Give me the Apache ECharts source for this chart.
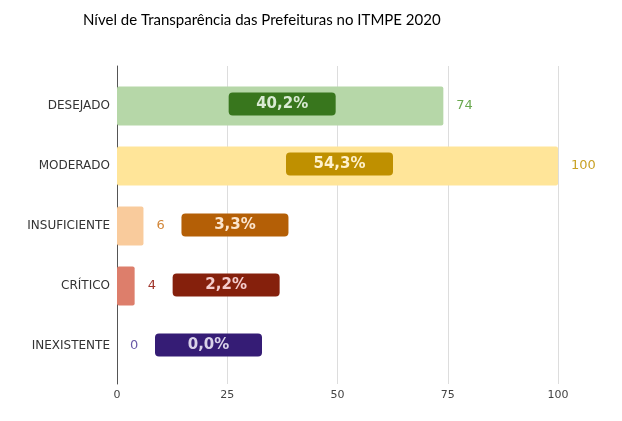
<!DOCTYPE html>
<html><head><meta charset="utf-8">
<script src="https://cdn.jsdelivr.net/npm/echarts@6/dist/echarts.min.js"></script>
<style>html,body{margin:0;padding:0;background:#fff}#c{width:622px;height:421px}</style>
</head><body><div id="c"></div>
<script>
const categories = ['DESEJADO', 'MODERADO', 'INSUFICIENTE', 'CRÍTICO', 'INEXISTENTE'];
const counts = [74, 100, 6, 4, 0];
const shares = [40.2, 54.3, 3.3, 2.2, 0.0];
const xTicks = [0, 25, 50, 75, 100];

const barColors = ['#b6d7a8', '#ffe599', '#f9cb9c', '#dd7e6b', '#b4a7d6'];
const valueColors = ['#6aa84f', '#c9a227', '#d2873a', '#a0342a', '#6a5aa8'];
const badgeColors = ['#38761d', '#bf9000', '#b45f06', '#85200c', '#351c75'];
const badgeText = ['#d9ead3', '#fff2cc', '#fce5cd', '#f4cccc', '#d9d2e9'];

const font = 'DejaVu Sans, Verdana, sans-serif';
const fmt = v => v.toFixed(1).replace('.', ',') + '%';

const chart = echarts.init(document.getElementById('c'), null, {renderer: 'canvas'});
chart.setOption({
  animation: false,
  title: {
    text: 'Nível de Transparência das Prefeituras no ITMPE 2020',
    left: 78, top: 8,
    textStyle: {fontFamily: 'Lato, sans-serif', fontWeight: 'normal', fontSize: 15, color: '#000'}
  },
  grid: [
    {left: 117, right: 64, top: 66, bottom: 37},
    {left: 117, right: 64, top: 76, bottom: 45}
  ],
  xAxis: [
    {gridIndex: 0, type: 'value', min: xTicks[0], max: xTicks[xTicks.length - 1], interval: 25,
     axisLine: {show: false}, axisTick: {show: false},
     splitLine: {lineStyle: {color: '#dddddd', width: 1}},
     axisLabel: {color: '#444', fontFamily: font, fontSize: 11, margin: 6}},
    {gridIndex: 1, type: 'value', min: xTicks[0], max: xTicks[xTicks.length - 1], show: false}
  ],
  yAxis: [
    {gridIndex: 0, type: 'value', min: 0, max: 1, axisLine: {show: true, lineStyle: {color: '#555', width: 1}},
     axisTick: {show: false}, axisLabel: {show: false}, splitLine: {show: false}},
    {gridIndex: 1, type: 'category', data: categories, inverse: true,
     axisLine: {show: false}, axisTick: {show: false}, splitLine: {show: false},
     axisLabel: {color: '#333', fontFamily: font, fontSize: 12, margin: 7}}
  ],
  series: [
    {
      type: 'bar', xAxisIndex: 1, yAxisIndex: 1, barWidth: '65%',
      data: counts.map((v, i) => ({
        value: v,
        itemStyle: {color: barColors[i], borderRadius: 2},
        label: {color: valueColors[i]}
      })),
      label: {show: true, position: 'right', distance: 13, fontFamily: font, fontSize: 13}
    },
    {
      type: 'bar', xAxisIndex: 1, yAxisIndex: 1, barWidth: '65%', barGap: '-100%',
      itemStyle: {color: 'rgba(0,0,0,0)'},
      silent: true,
      data: counts.map((v, i) => ({
        value: v,
        label: {
          show: true,
          position: v >= 20 ? 'inside' : 'right',
          distance: 38,
          offset: v >= 20 ? [2, -2] : [0, -1],
          formatter: '{b|' + fmt(shares[i]) + '}',
          rich: {
            b: {
              color: badgeText[i],
              backgroundColor: badgeColors[i],
              width: 107, height: 23, lineHeight: 23, align: 'center',
              borderRadius: 4,
              fontFamily: font, fontWeight: 'bold', fontSize: 15
            }
          }
        }
      }))
    }
  ]
});
</script></body></html>
